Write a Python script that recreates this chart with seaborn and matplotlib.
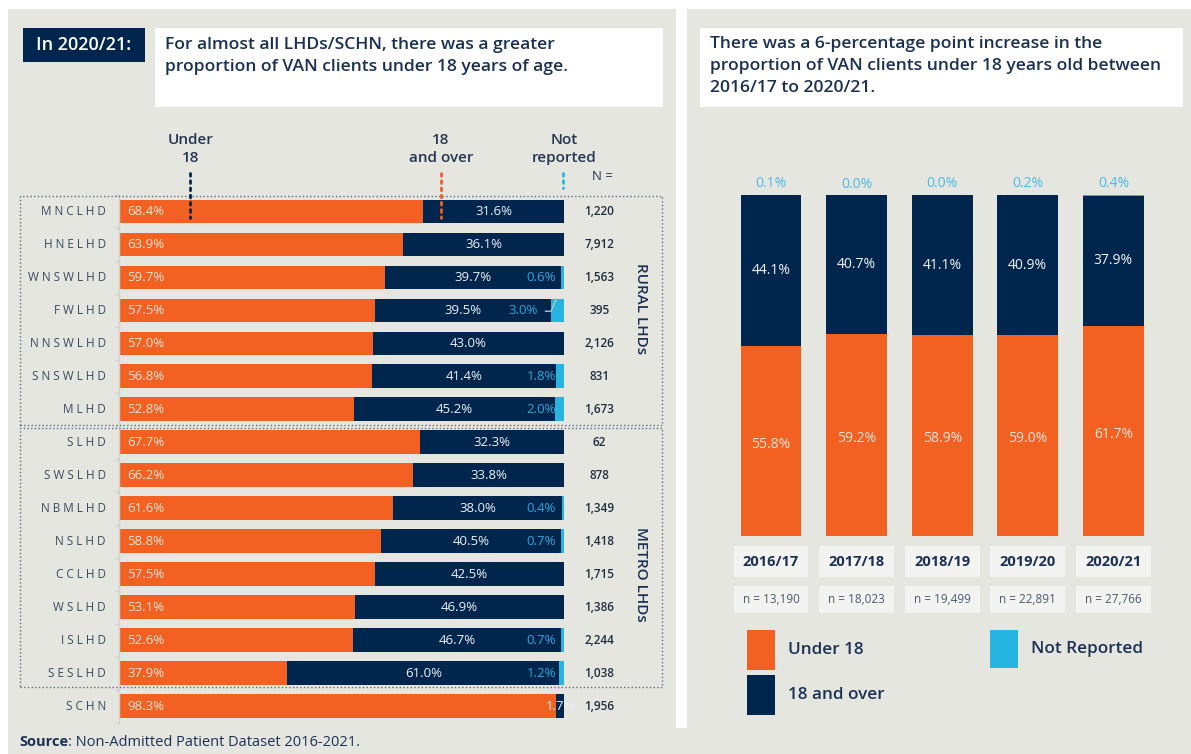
import matplotlib
matplotlib.use("Agg")
import matplotlib.pyplot as plt
from matplotlib.patches import Rectangle
from matplotlib.lines import Line2D
import seaborn as sns
import pandas as pd
import numpy as np

# ---- data: left chart (2020/21 by LHD) ----
lhd_names = ["MNCLHD", "HNELHD", "WNSWLHD", "FWLHD", "NNSWLHD", "SNSWLHD", "MLHD",
             "SLHD", "SWSLHD", "NBMLHD", "NSLHD", "CCLHD", "WSLHD", "ISLHD", "SESLHD",
             "SCHN"]
lhd_under18 = [68.4, 63.9, 59.7, 57.5, 57.0, 56.8, 52.8,
               67.7, 66.2, 61.6, 58.8, 57.5, 53.1, 52.6, 37.9,
               98.3]
lhd_over18 = [31.6, 36.1, 39.7, 39.5, 43.0, 41.4, 45.2,
              32.3, 33.8, 38.0, 40.5, 42.5, 46.9, 46.7, 61.0,
              1.7]
lhd_not_reported = [0.0, 0.0, 0.6, 3.0, 0.0, 1.8, 2.0,
                    0.0, 0.0, 0.4, 0.7, 0.0, 0.0, 0.7, 1.2,
                    0.0]
lhd_n = ["1,220", "7,912", "1,563", "395", "2,126", "831", "1,673",
         "62", "878", "1,349", "1,418", "1,715", "1,386", "2,244", "1,038",
         "1,956"]

# ---- data: right chart (trend) ----
years = ["2016/17", "2017/18", "2018/19", "2019/20", "2020/21"]
year_under18 = [55.8, 59.2, 58.9, 59.0, 61.7]
year_over18 = [44.1, 40.7, 41.1, 40.9, 37.9]
year_not_reported = [0.1, 0.0, 0.0, 0.2, 0.4]
year_n = ["n = 13,190", "n = 18,023", "n = 19,499", "n = 22,891", "n = 27,766"]

legend_labels = ["Under 18", "18 and over", "Not Reported"]

ORANGE = "#f26122"
NAVY = "#00264d"
BLUE = "#25b5e0"
BG = "#e6e6e1"
TXT = "#1b3152"
W, H = 1191, 754

sns.set_theme(style="white")
plt.rcParams["font.family"] = ["Open Sans", "DejaVu Sans"]

fig = plt.figure(figsize=(W / 100, H / 100), dpi=100, facecolor=BG)


def fx(px):
    return px / W


def fy(py):
    return 1 - py / H


def box(x0, y0, x1, y1):
    return [x0 / W, 1 - y1 / H, (x1 - x0) / W, (y1 - y0) / H]


def fig_rect(x0, y0, x1, y1, **kw):
    fig.patches.append(Rectangle((fx(x0), fy(y1)), (x1 - x0) / W, (y1 - y0) / H,
                                 transform=fig.transFigure, **kw))


def ftext(x, y, s, **kw):
    kw.setdefault("color", TXT)
    return fig.text(fx(x), fy(y), s, **kw)


# white frame strips
fig_rect(0, 0, W, 9, facecolor="white", edgecolor="none")
fig_rect(0, 0, 8, H, facecolor="white", edgecolor="none")
fig_rect(676, 0, 686.5, 728, facecolor="white", edgecolor="none")

# ---------------- left chart ----------------
df_lhd = pd.DataFrame({"lhd": lhd_names, "under18": lhd_under18,
                       "over18": lhd_over18, "nr": lhd_not_reported, "n": lhd_n})
df_lhd["cum_over"] = df_lhd["under18"] + df_lhd["over18"]
df_lhd["cum_all"] = df_lhd["cum_over"] + df_lhd["nr"]

axL = fig.add_axes(box(118.7, 194.8, 564, 722.5))
for col, colr in [("cum_all", BLUE), ("cum_over", NAVY), ("under18", ORANGE)]:
    sns.barplot(data=df_lhd, x=col, y="lhd", orient="h", color=colr, saturation=1,
                width=0.71, linewidth=0, ax=axL)
axL.set_xlim(0, 100)
axL.set_ylim(len(lhd_names) - 0.5, -0.5)
axL.set_facecolor("none")
axL.set_xlabel("")
axL.set_ylabel("")
axL.set_xticks([])
axL.set_yticks(np.arange(-0.5, len(lhd_names), 1.0))
axL.set_yticklabels([])
axL.tick_params(axis="y", length=3, width=1, color="#cfd0cc", direction="out", left=True)
for side in ["top", "right", "bottom"]:
    axL.spines[side].set_visible(False)
axL.spines["left"].set_color("#d2d3cf")
axL.spines["left"].set_linewidth(1)

nr_leader = ["FWLHD"]
for i, row in df_lhd.iterrows():
    axL.text(-2.9, i, " ".join(row["lhd"]), ha="right", va="center", fontsize=8.5,
             color="#3a4a5c", clip_on=False)
    axL.text(2.0, i, f"{row['under18']:.1f}%", ha="left", va="center", fontsize=9.5,
             color="#fde3d5")
    axL.text(row["under18"] + row["over18"] / 2, i, f"{row['over18']:.1f}%",
             ha="center", va="center", fontsize=9.5, color="#eef1f5", clip_on=False)
    if row["nr"] > 0:
        if row["lhd"] in nr_leader:
            axL.text(94.2, i, f"{row['nr']:.1f}%", ha="right", va="center",
                     fontsize=9.5, color="#2aa7dc")
            axL.plot([95.8, 97.1, 98.3], [i + 0.03, i + 0.03, i - 0.36],
                     color="#b9c2cc", lw=1)
        else:
            axL.text(98.2, i, f"{row['nr']:.1f}%", ha="right", va="center",
                     fontsize=9.5, color="#2aa7dc")
    axL.text(107.9, i, row["n"], ha="center", va="center", fontsize=8.5,
             color="#1f2d3d", fontweight="semibold", clip_on=False)

# group boxes and labels
fig_rect(19.5, 195.5, 662, 425, fill=False, edgecolor="#5b6b7f", lw=1, linestyle=":")
fig_rect(19.5, 427.5, 662, 687, fill=False, edgecolor="#5b6b7f", lw=1, linestyle=":")
ftext(641, 309, "RURAL LHDs", rotation=270, ha="center", va="center",
      fontsize=11, fontweight="semibold")
ftext(641, 574, "METRO LHDs", rotation=270, ha="center", va="center",
      fontsize=11, fontweight="semibold")

# column headers
for x, lines in [(191, ["Under", "18"]), (441, ["18", "and over"]), (564, ["Not", "reported"])]:
    for k, s in enumerate(lines):
        ftext(x, 140 + 18 * k, s, ha="center", va="center", fontsize=11,
              fontweight="semibold", color="#24364f")
ftext(603, 177, "N =", ha="center", va="center", fontsize=9.5, color="#24364f")
for x, y1, colr in [(190.4, 218, NAVY), (441.3, 218, ORANGE), (563, 188, BLUE)]:
    fig.add_artist(Line2D([fx(x), fx(x)], [fy(173), fy(y1)], transform=fig.transFigure,
                          color=colr, lw=2, linestyle=(0, (1, 1.6)), dash_capstyle="round"))

# left titles
fig_rect(23, 28, 145, 62, facecolor=NAVY, edgecolor="none")
ftext(84, 45, "In 2020/21:", ha="center", va="center", fontsize=13,
      fontweight="semibold", color="white")
fig_rect(155, 28, 663, 107, facecolor="white", edgecolor="none")
left_title = ["For almost all LHDs/SCHN, there was a greater",
              "proportion of VAN clients under 18 years of age."]
for k, s in enumerate(left_title):
    ftext(165, 45 + 21.7 * k, s, ha="left", va="center", fontsize=12.6,
          fontweight="semibold")

# source
src = ftext(19, 742, "Source", ha="left", va="center", fontsize=10.5, fontweight="bold")
fig.canvas.draw()
bb = src.get_window_extent()
fig.text(bb.x1 / W, fy(742), ": Non-Admitted Patient Dataset 2016-2021.", ha="left",
         va="center", fontsize=10.5, color=TXT)

# ---------------- right chart ----------------
df_year = pd.DataFrame({"year": years, "under18": year_under18, "over18": year_over18,
                        "nr": year_not_reported, "n": year_n})
df_year["cum_over"] = df_year["under18"] + df_year["over18"]
df_year["cum_all"] = df_year["cum_over"] + df_year["nr"]

axR = fig.add_axes(box(728.2, 195, 1156.2, 536))
for col, colr in [("cum_all", BLUE), ("cum_over", NAVY), ("under18", ORANGE)]:
    sns.barplot(data=df_year, x="year", y=col, color=colr, saturation=1,
                width=0.71, linewidth=0, ax=axR)
axR.set_ylim(0, 100)
axR.set_xlim(-0.5, len(years) - 0.5)
axR.axis("off")


def ry(py):
    return (536 - py) / 341 * 100


for i, row in df_year.iterrows():
    axR.text(i, row["cum_all"] + 3.3, f"{row['nr']:.1f}%", ha="center", va="center",
             fontsize=10, color="#4bbbe6")
    axR.text(i, row["under18"] + row["over18"] / 2, f"{row['over18']:.1f}%",
             ha="center", va="center", fontsize=10, color="#f1f3f6")
    axR.text(i, row["under18"] / 2 - 1, f"{row['under18']:.1f}%", ha="center",
             va="center", fontsize=10, color="#fde3d5")
    axR.add_patch(Rectangle((i - 0.438, ry(576.7)), 0.876, ry(546) - ry(576.7),
                            facecolor="#f3f3f2", edgecolor="none", clip_on=False))
    axR.text(i, ry(561.5), row["year"], ha="center", va="center", fontsize=10.5,
             fontweight="bold", color=TXT, clip_on=False)
    axR.add_patch(Rectangle((i - 0.438, ry(612.7)), 0.876, ry(586) - ry(612.7),
                            facecolor="#f3f3f2", edgecolor="none", clip_on=False))
    axR.text(i, ry(599.5), row["n"], ha="center", va="center", fontsize=8.5,
             color="#4a5a70", clip_on=False)

fig_rect(700, 28, 1183, 106.5, facecolor="white", edgecolor="none")
right_title = ["There was a 6-percentage point increase in the",
               "proportion of VAN clients under 18 years old between",
               "2016/17 to 2020/21."]
for k, s in enumerate(right_title):
    ftext(710, 43.5 + 22.4 * k, s, ha="left", va="center", fontsize=12.6,
          fontweight="semibold")

# legend (drawn as key boxes + text)
legend_colors = [ORANGE, NAVY, BLUE]
legend_pos = [(747, 630, 670), (747, 675, 715), (990, 630, 668)]
for lab, colr, (x0, y0, y1) in zip(legend_labels, legend_colors, legend_pos):
    fig_rect(x0, y0, x0 + 27.7, y1, facecolor=colr, edgecolor="none")
    ftext(x0 + 41, (y0 + y1) / 2, lab, ha="left", va="center", fontsize=12.3,
          fontweight="semibold")

fig.savefig("out.png", dpi=100, facecolor=BG)
